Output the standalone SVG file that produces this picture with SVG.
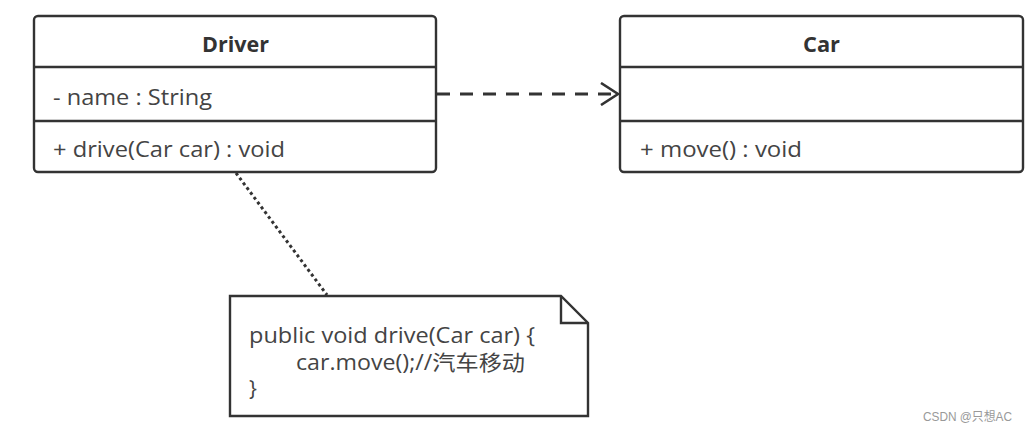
<svg xmlns="http://www.w3.org/2000/svg" width="1035" height="432" viewBox="0 0 1035 432">
<style>
.box{fill:#fff;stroke:#333;stroke-width:2.4}
.sep{stroke:#333;stroke-width:2.4}
.t{font-family:"Open Sans","Noto Sans CJK SC",sans-serif;font-size:21px;fill:#444}
.title{font-family:"Open Sans","Noto Sans CJK SC",sans-serif;font-size:21px;font-weight:bold;fill:#333}
.wm{font-family:"Liberation Sans","Noto Sans CJK SC",sans-serif;font-size:12px;fill:#999}
</style>
<defs>
<marker id="open" markerWidth="20" markerHeight="24" refX="18" refY="12" orient="auto" markerUnits="userSpaceOnUse">
<path d="M1,1 L18,12 L1,23" fill="none" stroke="#333" stroke-width="2.6"/>
</marker>
</defs>
<rect width="1035" height="432" fill="#fff"/>
<g id="connectors">
<path d="M437,94 L618,94" fill="none" stroke="#333" stroke-width="3" stroke-dasharray="13,10" marker-end="url(#open)"/>
<path d="M236,173 L327,295" fill="none" stroke="#333" stroke-width="3" stroke-dasharray="3,3"/>
</g>
<g id="Driver">
<rect class="box" x="34" y="16" width="402" height="156" rx="4"/>
<line class="sep" x1="34" y1="67" x2="436" y2="67"/>
<line class="sep" x1="34" y1="121" x2="436" y2="121"/>
<text class="title" x="202" y="52" textLength="67" lengthAdjust="spacingAndGlyphs">Driver</text>
<text class="t" x="53" y="105" textLength="159" lengthAdjust="spacingAndGlyphs">- name : String</text>
<text class="t" x="53" y="157" textLength="232" lengthAdjust="spacingAndGlyphs">+ drive(Car car) : void</text>
</g>
<g id="Car">
<rect class="box" x="620" y="16" width="403" height="156" rx="4"/>
<line class="sep" x1="620" y1="67" x2="1023" y2="67"/>
<line class="sep" x1="620" y1="121" x2="1023" y2="121"/>
<text class="title" x="803" y="52" textLength="37" lengthAdjust="spacingAndGlyphs">Car</text>
<text class="t" x="640" y="157" textLength="162" lengthAdjust="spacingAndGlyphs">+ move() : void</text>
</g>
<g id="Note">
<path class="box" d="M230,296 L561,296 L588,323 L588,416 L230,416 Z"/>
<path d="M561,296 L561,323 L588,323" fill="none" stroke="#333" stroke-width="2.4"/>
<text class="t" x="249" y="343" textLength="286" lengthAdjust="spacingAndGlyphs">public void drive(Car car) {</text>
<text class="t" x="296" y="370" textLength="229" lengthAdjust="spacingAndGlyphs">car.move();//汽车移动</text>
<text class="t" x="249" y="396">}</text>
</g>
<text class="wm" x="923" y="421" textLength="89" lengthAdjust="spacingAndGlyphs">CSDN @只想AC</text>
</svg>
